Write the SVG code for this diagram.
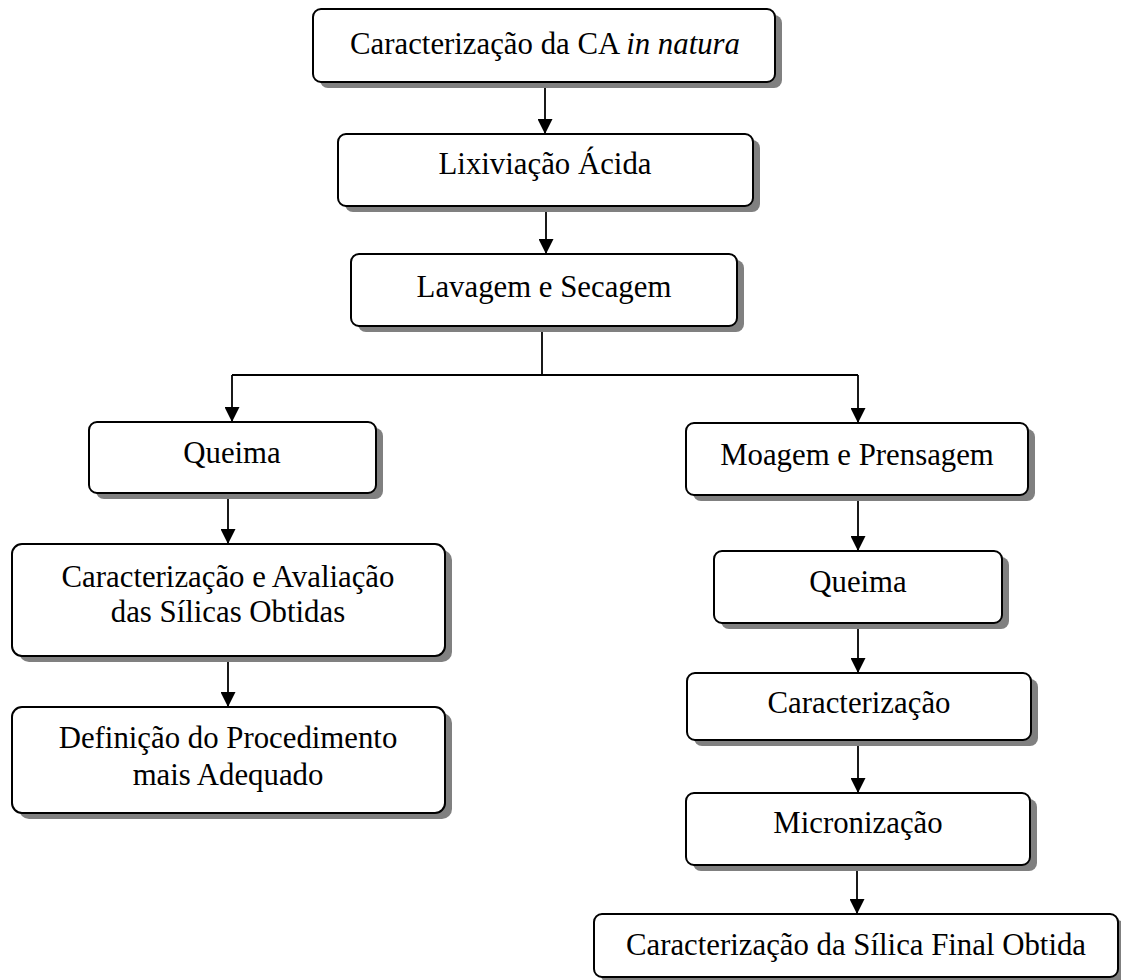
<svg xmlns="http://www.w3.org/2000/svg" width="1121" height="980" viewBox="0 0 1121 980">
<style>
.box{fill:#fff;stroke:#000;stroke-width:2}
.sh{fill:#808080;stroke:none}
.t{font-family:"Liberation Serif","Times New Roman",serif;font-size:30.8px;fill:#000;text-anchor:middle}
.c{fill:none;stroke:#000;stroke-width:1.8}
</style>
<defs>
<marker id="ah" markerUnits="userSpaceOnUse" markerWidth="15" markerHeight="15" refX="14" refY="7.5" orient="auto">
<path d="M0,0 L15,7.5 L0,15 Z" fill="#000"/>
</marker>
</defs>
<rect width="1121" height="980" fill="#fff"/>
<g id="connectors">
<line class="c" x1="545" y1="83" x2="545" y2="133" marker-end="url(#ah)"/>
<line class="c" x1="546" y1="207" x2="546" y2="253" marker-end="url(#ah)"/>
<polyline class="c" points="542,327 542,375"/>
<polyline class="c" points="232,375 858,375"/>
<line class="c" x1="232" y1="375" x2="232" y2="421" marker-end="url(#ah)"/>
<line class="c" x1="858" y1="375" x2="858" y2="422" marker-end="url(#ah)"/>
<line class="c" x1="228" y1="494" x2="228" y2="543" marker-end="url(#ah)"/>
<line class="c" x1="228" y1="657" x2="228" y2="706" marker-end="url(#ah)"/>
<line class="c" x1="858" y1="496" x2="858" y2="550" marker-end="url(#ah)"/>
<line class="c" x1="858" y1="624" x2="858" y2="672" marker-end="url(#ah)"/>
<line class="c" x1="858" y1="741" x2="858" y2="792" marker-end="url(#ah)"/>
<line class="c" x1="857" y1="866" x2="857" y2="913" marker-end="url(#ah)"/>
</g>
<g id="n1">
<rect class="sh" x="320" y="15" width="462" height="73" rx="8"/>
<rect class="box" x="313" y="9" width="462" height="73" rx="8"/>
<text class="t" x="545" y="54">Caracterização da CA <tspan font-style="italic">in natura</tspan></text>
</g>
<g id="n2">
<rect class="sh" x="345" y="140" width="415" height="72" rx="8"/>
<rect class="box" x="338" y="134" width="415" height="72" rx="8"/>
<text class="t" x="545" y="174">Lixiviação Ácida</text>
</g>
<g id="n3">
<rect class="sh" x="358" y="260" width="386" height="72" rx="8"/>
<rect class="box" x="351" y="254" width="386" height="72" rx="8"/>
<text class="t" x="544" y="297">Lavagem e Secagem</text>
</g>
<g id="n4">
<rect class="sh" x="96" y="428" width="287" height="71" rx="8"/>
<rect class="box" x="89" y="422" width="287" height="71" rx="8"/>
<text class="t" x="232" y="463">Queima</text>
</g>
<g id="n5">
<rect class="sh" x="19" y="550" width="433" height="112" rx="10"/>
<rect class="box" x="12" y="544" width="433" height="112" rx="10"/>
<text class="t" x="228" y="587">Caracterização e Avaliação</text>
<text class="t" x="228" y="622">das Sílicas Obtidas</text>
</g>
<g id="n6">
<rect class="sh" x="19" y="713" width="433" height="106" rx="10"/>
<rect class="box" x="12" y="707" width="433" height="106" rx="10"/>
<text class="t" x="228" y="748">Definição do Procedimento</text>
<text class="t" x="228" y="785">mais Adequado</text>
</g>
<g id="n7">
<rect class="sh" x="693" y="429" width="342" height="72" rx="8"/>
<rect class="box" x="686" y="423" width="342" height="72" rx="8"/>
<text class="t" x="857" y="465">Moagem e Prensagem</text>
</g>
<g id="n8">
<rect class="sh" x="721" y="557" width="288" height="72" rx="8"/>
<rect class="box" x="714" y="551" width="288" height="72" rx="8"/>
<text class="t" x="858" y="592">Queima</text>
</g>
<g id="n9">
<rect class="sh" x="694" y="679" width="344" height="67" rx="8"/>
<rect class="box" x="687" y="673" width="344" height="67" rx="8"/>
<text class="t" x="859" y="713">Caracterização</text>
</g>
<g id="n10">
<rect class="sh" x="693" y="799" width="344" height="72" rx="8"/>
<rect class="box" x="686" y="793" width="344" height="72" rx="8"/>
<text class="t" x="858" y="833">Micronização</text>
</g>
<g id="n11">
<rect class="sh" x="601" y="920" width="524" height="63" rx="8"/>
<rect class="box" x="594" y="914" width="524" height="63" rx="8"/>
<text class="t" x="856" y="955">Caracterização da Sílica Final Obtida</text>
</g>
</svg>
